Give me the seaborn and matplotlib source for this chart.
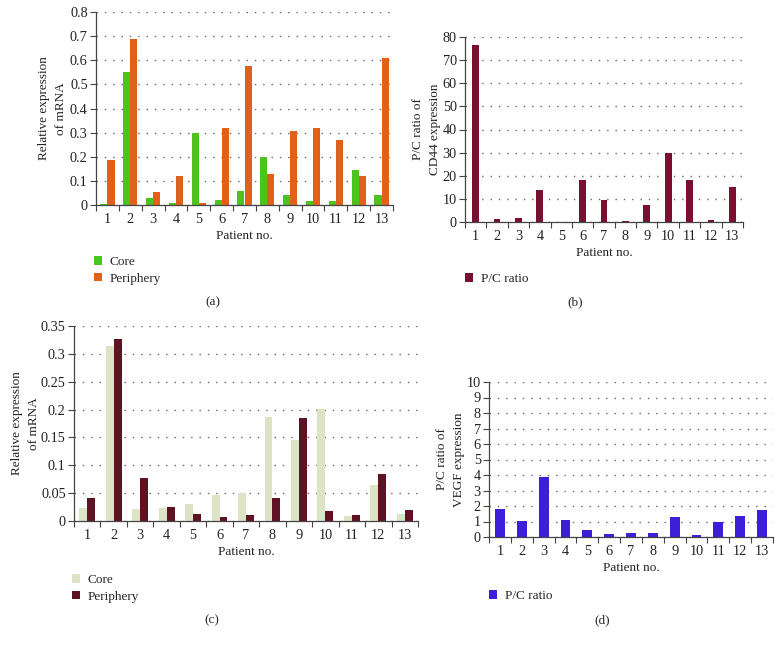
import numpy as np
import pandas as pd
import matplotlib
matplotlib.use("Agg")
import matplotlib.pyplot as plt
import seaborn as sns
from matplotlib.patches import Patch
from matplotlib.ticker import FormatStrFormatter, MultipleLocator, FixedLocator

sns.set_theme(style="white")
plt.rcParams['font.family'] = ['Liberation Serif', 'DejaVu Serif']

patients = [str(i) for i in range(1, 14)]

# (a) CD44 relative expression
a_core = [0.003, 0.55, 0.03, 0.01, 0.30, 0.02, 0.06, 0.20, 0.04, 0.015, 0.015, 0.145, 0.04]
a_periphery = [0.185, 0.69, 0.053, 0.12, 0.008, 0.32, 0.575, 0.13, 0.305, 0.32, 0.27, 0.122, 0.61]
# (b) P/C ratio CD44
b_ratio = [76.5, 1.3, 1.8, 13.8, 0.1, 18.0, 9.7, 0.4, 7.4, 30.0, 18.0, 0.8, 15.0]
# (c) VEGF relative expression
c_core = [0.024, 0.314, 0.021, 0.024, 0.031, 0.047, 0.050, 0.186, 0.146, 0.201, 0.009, 0.064, 0.012]
c_periphery = [0.041, 0.327, 0.078, 0.026, 0.013, 0.007, 0.011, 0.042, 0.184, 0.018, 0.010, 0.085, 0.020]
# (d) P/C ratio VEGF
d_ratio = [1.8, 1.05, 3.9, 1.12, 0.45, 0.2, 0.28, 0.28, 1.3, 0.15, 1.0, 1.38, 1.75]

FS = 9.5
TFS = 10.3
fig = plt.figure(figsize=(7.82, 6.47), dpi=100)
W, H = 782.0, 647.0

def make_ax(l, r, t, b):
    return fig.add_axes([l / W, 1 - b / H, (r - l) / W, (b - t) / H])

def style(ax, ymax, ystep, fmt, ylabel, labelpad):
    ax.set_xlim(-0.5, 12.5)
    ax.set_ylim(0, ymax)
    ax.yaxis.set_major_locator(MultipleLocator(ystep))
    ax.yaxis.set_major_formatter(FormatStrFormatter(fmt))
    ax.set_xticks(range(13))
    ax.set_xticklabels(patients)
    ax.xaxis.set_minor_locator(FixedLocator(np.arange(-0.5, 13, 1)))
    ax.tick_params(axis='x', which='major', length=0, labelsize=TFS, pad=6, colors='#222222')
    ax.tick_params(axis='x', which='minor', length=4, width=0.8, direction='out', color='#444444', bottom=True)
    ax.tick_params(axis='y', length=4, width=0.8, direction='out', color='#444444', labelsize=TFS, pad=2, left=True, colors='#222222')
    for s in ['top', 'right']:
        ax.spines[s].set_visible(False)
    for s in ['left', 'bottom']:
        ax.spines[s].set_color('#444444')
        ax.spines[s].set_linewidth(0.9)
    ax.yaxis.grid(True, linestyle=(0, (1, 5)), color='#666666', linewidth=1.0)
    ax.xaxis.grid(False)
    ax.set_axisbelow(True)
    ax.set_xlabel('Patient no.', fontsize=FS, labelpad=2.5, color='#222222')
    ax.set_ylabel(ylabel, fontsize=FS, labelpad=labelpad, color='#222222', linespacing=1.55)

def legend(ax, labels, colors, x, y):
    handles = [Patch(facecolor=c, edgecolor='none') for c in colors]
    fig.legend(handles, labels, loc='upper left', bbox_to_anchor=(x / W, 1 - y / H),
               frameon=False, fontsize=FS, handlelength=0.6, handleheight=0.6,
               handletextpad=0.6, labelspacing=0.35, borderaxespad=0, borderpad=0)

# (a)
axa = make_ax(96, 393, 12, 205)
dfa = pd.DataFrame({'Patient': patients * 2,
                    'Value': a_core + a_periphery,
                    'Group': ['Core'] * 13 + ['Periphery'] * 13})
sns.barplot(data=dfa, x='Patient', y='Value', hue='Group', ax=axa,
            palette=['#4DC41C', '#E2611A'], width=0.62, gap=0.0, legend=False,
            edgecolor='none', saturation=1)
style(axa, 0.8, 0.1, '%g', 'Relative expression\nof mRNA', 2)
legend(axa, ['Core', 'Periphery'], ['#4DC41C', '#E2611A'], 94, 256)
fig.text(213 / W, 1 - 302 / H, '(a)', ha='center', va='center', fontsize=FS)

# (b)
axb = make_ax(465, 743, 37, 222)
dfb = pd.DataFrame({'Patient': patients, 'Value': b_ratio})
sns.barplot(data=dfb, x='Patient', y='Value', ax=axb, color='#7A1030',
            width=0.32, edgecolor='none', saturation=1)
style(axb, 80, 10, '%g', 'P/C ratio of\nCD44 expression', 1)
legend(axb, ['P/C ratio'], ['#7A1030'], 465, 273)
fig.text(575 / W, 1 - 302 / H, '(b)', ha='center', va='center', fontsize=FS)

# (c)
axc = make_ax(74, 418, 326, 521)
dfc = pd.DataFrame({'Patient': patients * 2,
                    'Value': c_core + c_periphery,
                    'Group': ['Core'] * 13 + ['Periphery'] * 13})
sns.barplot(data=dfc, x='Patient', y='Value', hue='Group', ax=axc,
            palette=['#DDE4C6', '#5E1222'], width=0.6, gap=0.0, legend=False,
            edgecolor='none', saturation=1)
style(axc, 0.35, 0.05, '%g', 'Relative expression\nof mRNA', 1)
legend(axc, ['Core', 'Periphery'], ['#DDE4C6', '#5E1222'], 72, 574)
fig.text(212 / W, 1 - 620 / H, '(c)', ha='center', va='center', fontsize=FS)

# (d)
axd = make_ax(489, 773, 382, 537)
dfd = pd.DataFrame({'Patient': patients, 'Value': d_ratio})
sns.barplot(data=dfd, x='Patient', y='Value', ax=axd, color='#3D1FDA',
            width=0.45, edgecolor='none', saturation=1)
style(axd, 10, 1, '%g', 'P/C ratio of\nVEGF expression', 1)
legend(axd, ['P/C ratio'], ['#3D1FDA'], 489, 590)
fig.text(602 / W, 1 - 620 / H, '(d)', ha='center', va='center', fontsize=FS)

fig.savefig('out.png', dpi=100, facecolor='white')
